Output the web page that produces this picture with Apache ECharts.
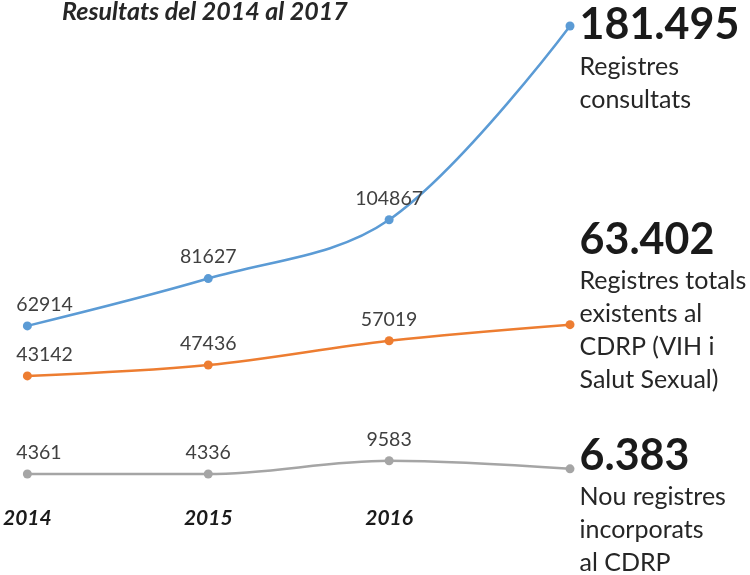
<!DOCTYPE html>
<html>
<head>
<meta charset="utf-8">
<script src="https://cdn.jsdelivr.net/npm/echarts@6/dist/echarts.min.js"></script>
<style>
  html, body { margin: 0; padding: 0; background: #fff; }
  #chart { width: 750px; height: 575px; }
</style>
</head>
<body>
<div id="chart"></div>
<script>
// dades llegides del gràfic
const years = ["2014", "2015", "2016", "2017"];
const consultats = [62914, 81627, 104867, 181495];
const totals = [43142, 47436, 57019, 63402];
const nous = [4361, 4336, 9583, 6383];

const descConsultats = ["Registres", "consultats"];
const descTotals = ["Registres totals", "existents al", "CDRP (VIH i", "Salut Sexual)"];
const descNous = ["Nou registres", "incorporats", "al CDRP"];

const FONT = "Lato";

// 181495 -> "181.495"
function dotted(v) {
  return String(v).replace(/\B(?=(\d{3})+(?!\d))/g, ".");
}

function makeSeries(name, values, color, desc, endDy) {
  const last = values.length - 1;
  const data = values.map((v, i) => {
    const item = { value: v };
    if (i === 0) {
      item.label = { align: "left", offset: [-11, 0] };
    }
    if (i === last) {
      item.label = {
        position: "right",
        distance: 5,
        align: "left",
        verticalAlign: "top",
        offset: [0, endDy],
        formatter: "{big|" + dotted(v) + "}\n" +
          desc.map(d => "{desc|" + d + "}").join("\n"),
        rich: {
          big: { fontFamily: FONT, fontSize: 43, fontWeight: "bold", lineHeight: 50, color: "#1a1a1a" },
          desc: { fontFamily: FONT, fontSize: 25, lineHeight: 33, color: "#262626" }
        }
      };
    }
    return item;
  });
  return {
    name: name,
    type: "line",
    smooth: 0.35,
    symbol: "circle",
    symbolSize: 9,
    lineStyle: { width: 2.5, color: color },
    itemStyle: { color: color },
    label: {
      show: true,
      position: "top",
      distance: 7,
      fontFamily: FONT,
      fontSize: 19.5,
      color: "#404040"
    },
    data: data
  };
}

const chart = echarts.init(document.getElementById("chart"), null, { renderer: "canvas" });

chart.setOption({
  animation: false,
  backgroundColor: "#fff",
  title: {
    text: "Resultats del 2014 al 2017",
    left: 57,
    top: -6,
    textStyle: { fontFamily: FONT, fontSize: 25, fontWeight: "bold", fontStyle: "italic", color: "#262626" }
  },
  grid: { left: 23, right: 180, top: 26, bottom: 90 },
  xAxis: {
    type: "category",
    boundaryGap: false,
    data: years,
    axisLine: { show: false },
    axisTick: { show: false },
    splitLine: { show: false },
    axisLabel: {
      margin: 23,
      fontFamily: FONT,
      fontSize: 21,
      fontWeight: "bold",
      fontStyle: "italic",
      color: "#1a1a1a",
      formatter: (v, i) => (i === years.length - 1 ? "" : v)
    }
  },
  yAxis: {
    type: "value",
    min: 0,
    max: 181495,
    show: false,
    splitLine: { show: false }
  },
  series: [
    makeSeries("Registres consultats", consultats, "#5B9BD5", descConsultats, -26),
    makeSeries("Registres totals", totals, "#ED7D31", descTotals, -110),
    makeSeries("Nous registres", nous, "#A5A5A5", descNous, -38)
  ]
});
</script>
</body>
</html>
